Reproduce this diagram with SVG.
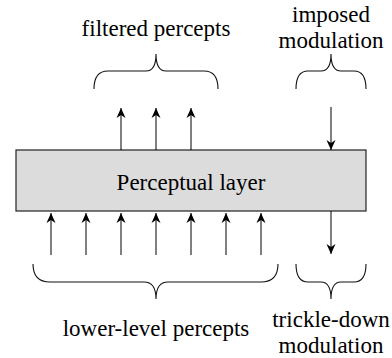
<svg xmlns="http://www.w3.org/2000/svg" width="392" height="358" viewBox="0 0 392 358">
  <style>
    text { font-family: "Liberation Serif", "Times New Roman", serif; font-size: 23px; fill: #000; text-anchor: middle; }
    .arrow { stroke: #000; stroke-width: 1; fill: none; marker-end: url(#tip); }
    .brace { stroke: #111; stroke-width: 1.1; fill: none; }
    .layer { fill: #dcdcdc; stroke: #222; stroke-width: 1.2; }
  </style>
  <defs>
    <marker id="tip" markerUnits="userSpaceOnUse" markerWidth="14" markerHeight="12" viewBox="-11 -6 12 12" refX="0" refY="0" orient="auto">
      <path d="M0,0 L-10,-4.5 L-7,0 L-10,4.5 Z" fill="#000"/>
    </marker>
  </defs>

  <rect width="392" height="358" fill="#fff"/>

  <!-- the layer itself -->
  <g id="perceptual-layer">
    <rect class="layer" x="16" y="150" width="350" height="61"/>
    <text x="191" y="190">Perceptual layer</text>
  </g>

  <!-- arrows in and out of the layer -->
  <g id="connectors">
    <!-- lower-level inputs -->
    <line class="arrow" x1="51" y1="255" x2="51" y2="213"/>
    <line class="arrow" x1="86" y1="255" x2="86" y2="213"/>
    <line class="arrow" x1="121" y1="255" x2="121" y2="213"/>
    <line class="arrow" x1="156" y1="255" x2="156" y2="213"/>
    <line class="arrow" x1="191" y1="255" x2="191" y2="213"/>
    <line class="arrow" x1="226" y1="255" x2="226" y2="213"/>
    <line class="arrow" x1="261" y1="255" x2="261" y2="213"/>
    <!-- filtered outputs -->
    <line class="arrow" x1="121" y1="150" x2="121" y2="108"/>
    <line class="arrow" x1="156" y1="150" x2="156" y2="108"/>
    <line class="arrow" x1="191" y1="150" x2="191" y2="108"/>
    <!-- modulation passing down -->
    <line class="arrow" x1="331" y1="107" x2="331" y2="150"/>
    <line class="arrow" x1="331" y1="211" x2="331" y2="254"/>
  </g>

  <!-- braces and their labels -->
  <g id="filtered-percepts">
    <path class="brace" d="M94,89 Q94,71 108,71 L146,71 Q156,71 156,54 Q156,71 166,71 L204,71 Q218,71 218,89"/>
    <text x="156" y="36">filtered percepts</text>
  </g>

  <g id="imposed-modulation">
    <path class="brace" d="M296,89 Q296,71 308,71 L321,71 Q331,71 331,54 Q331,71 341,71 L354,71 Q366,71 366,89"/>
    <text x="331" y="22">imposed</text>
    <text x="331" y="48">modulation</text>
  </g>

  <g id="lower-level-percepts">
    <path class="brace" d="M33,264 Q33,282 50,282 L144,282 Q156,282 156,299 Q156,282 168,282 L261,282 Q278,282 278,264"/>
    <text x="156" y="336">lower-level percepts</text>
  </g>

  <g id="trickle-down-modulation">
    <path class="brace" d="M296,264 Q296,282 308,282 L321,282 Q331,282 331,299 Q331,282 341,282 L354,282 Q366,282 366,264"/>
    <text x="331" y="327">trickle-down</text>
    <text x="331" y="353">modulation</text>
  </g>
</svg>
